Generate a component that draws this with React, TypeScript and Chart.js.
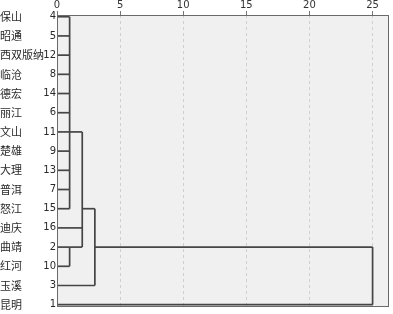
import React, { useEffect, useRef } from 'react';
import { Chart, registerables } from 'chart.js';

Chart.register(...registerables);

// Row labels (top to bottom)
const cityNames = ['保山', '昭通', '西双版纳', '临沧', '德宏', '丽江', '文山', '楚雄', '大理', '普洱', '怒江', '迪庆', '曲靖', '红河', '玉溪', '昆明'];
const caseNumbers = [4, 5, 12, 8, 14, 6, 11, 9, 13, 7, 15, 16, 2, 10, 3, 1];
const xTickValues = [0, 5, 10, 15, 20, 25];

// Dendrogram merges (rescaled distance), the rows entering each merge and where each entering line starts
const mergeDistances = [1, 1, 2, 3, 25];
const mergeChildRows = [
  [0, 1, 2, 3, 4, 5, 6, 7, 8, 9, 10],
  [12, 13],
  [6, 11, 12],
  [10, 14],
  [12, 15],
];
const mergeChildStarts = [
  [0, 0, 0, 0, 0, 0, 0, 0, 0, 0, 0],
  [0, 0],
  [1, 0, 1],
  [2, 0],
  [3, 0],
];

const LINE_COLOR = '#454545';

function buildSegments() {
  const segs: { x: number; y: number }[][] = [];
  mergeDistances.forEach((d, m) => {
    const rows = mergeChildRows[m];
    const starts = mergeChildStarts[m];
    rows.forEach((r, i) => {
      segs.push([
        { x: starts[i], y: r },
        { x: d, y: r },
      ]);
    });
    segs.push([
      { x: d, y: Math.min(...rows) },
      { x: d, y: Math.max(...rows) },
    ]);
  });
  return segs;
}

const dendroPlugin = {
  id: 'dendroDecor',
  beforeDraw(chart: any) {
    const { ctx, chartArea } = chart;
    const { left, top, right, bottom } = chartArea;
    ctx.save();
    ctx.fillStyle = '#f0f0f0';
    ctx.fillRect(left, top, right - left, bottom - top);
    ctx.restore();
  },
  afterDatasetsDraw(chart: any) {
    const { ctx, chartArea } = chart;
    const { left, top, right, bottom } = chartArea;
    ctx.save();
    ctx.strokeStyle = '#6a6a6a';
    ctx.lineWidth = 1;
    ctx.strokeRect(Math.round(left) + 0.5, Math.round(top) + 0.5, Math.round(right - left) - 1, Math.round(bottom - top) - 1);
    ctx.restore();
  },
  afterDraw(chart: any) {
    const { ctx } = chart;
    const yScale = chart.scales.y;
    ctx.save();
    ctx.fillStyle = '#2a2a2a';
    ctx.font = '11px "Noto Sans CJK SC"';
    ctx.textAlign = 'left';
    ctx.textBaseline = 'middle';
    cityNames.forEach((name, i) => {
      ctx.fillText(name, 0, yScale.getPixelForValue(i));
    });
    ctx.restore();
  },
};

export default function App() {
  const canvasRef = useRef<HTMLCanvasElement | null>(null);

  useEffect(() => {
    document.body.style.margin = '0';
    const canvas = canvasRef.current;
    if (!canvas) return;
    const segments = buildSegments();
    const chart = new Chart(canvas, {
      type: 'line',
      data: {
        datasets: segments.map((seg) => ({
          data: seg,
          borderColor: LINE_COLOR,
          borderWidth: 1.7,
          pointRadius: 0,
          fill: false,
          tension: 0,
        })),
      },
      options: {
        animation: false,
        responsive: true,
        maintainAspectRatio: false,
        layout: { padding: { left: 0, right: 4, top: 0, bottom: 3 } },
        plugins: {
          legend: { display: false },
          tooltip: { enabled: false },
        },
        scales: {
          x: {
            type: 'linear',
            position: 'top',
            min: 0,
            max: 26.3,
            afterBuildTicks: (scale: any) => {
              scale.ticks = xTickValues.map((v) => ({ value: v }));
            },
            afterFit: (scale: any) => {
              scale.height = 15;
            },
            ticks: {
              font: { family: '"DejaVu Sans"', size: 10 },
              color: '#333',
              padding: 0,
              maxRotation: 0,
            },
            grid: {
              display: true,
              color: '#cfcfcf',
              lineWidth: 1,
              drawTicks: true,
              tickLength: 4,
              tickColor: '#777',
              tickBorderDash: [],
            },
            border: { display: false, dash: [3, 3] },
          },
          y: {
            type: 'linear',
            reverse: true,
            min: -0.09,
            max: 15.12,
            afterBuildTicks: (scale: any) => {
              scale.ticks = caseNumbers.map((_, i) => ({ value: i }));
            },
            afterFit: (scale: any) => {
              scale.width = 57;
            },
            ticks: {
              font: { family: '"DejaVu Sans"', size: 10 },
              color: '#2a2a2a',
              padding: 1,
              callback: (_v: any, index: number) => String(caseNumbers[index]),
            },
            grid: { display: false, drawTicks: false },
            border: { display: false },
          },
        },
      },
      plugins: [dendroPlugin],
    } as any);
    return () => chart.destroy();
  }, []);

  return (
    <div style={{ width: 393, height: 314, position: 'relative' }}>
      <canvas ref={canvasRef} />
    </div>
  );
}
